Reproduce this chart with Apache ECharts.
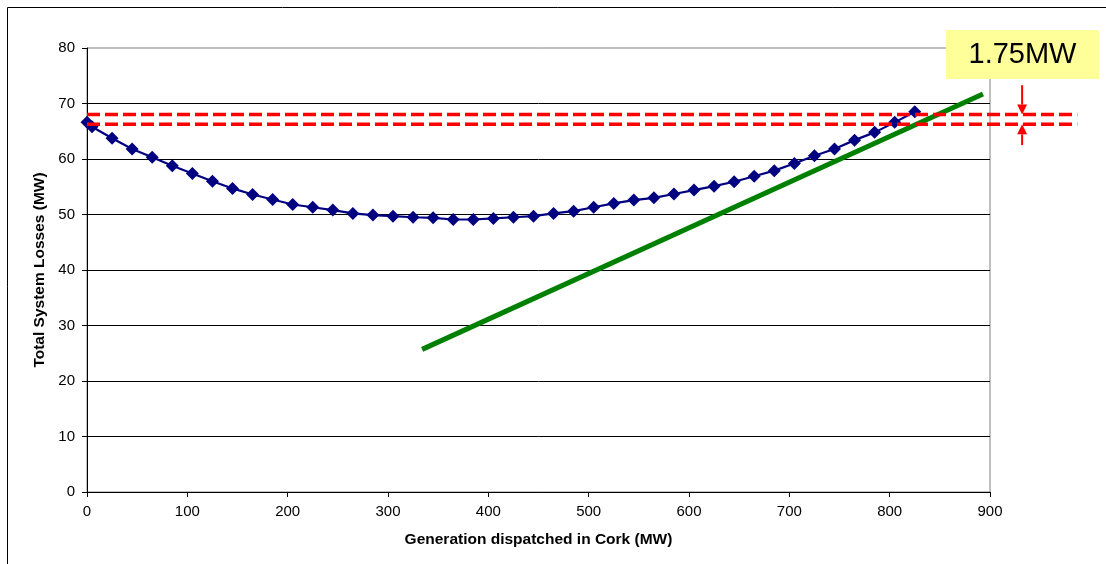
<!DOCTYPE html>
<html>
<head>
<meta charset="utf-8">
<script src="https://cdn.jsdelivr.net/npm/echarts@6/dist/echarts.min.js"></script>
<style>
html,body{margin:0;padding:0;background:#fff;}
#chart{width:1106px;height:564px;}
</style>
</head>
<body>
<div id="chart"></div>
<script>
// Generation dispatched in Cork (MW)
const genMW = [0,5,25,45,65,85,105,125,145,165,185,205,225,245,265,285,305,325,345,365,385,405,425,445,465,485,505,525,545,565,585,605,625,645,665,685,705,725,745,765,785,805,825];
// Total system losses (MW)
const lossesMW = [66.6,65.8,63.75,61.8,60.3,58.8,57.4,56.0,54.7,53.6,52.7,51.8,51.3,50.8,50.2,49.9,49.7,49.5,49.4,49.1,49.1,49.3,49.5,49.7,50.2,50.6,51.3,52.0,52.6,53.0,53.7,54.4,55.1,55.9,56.9,57.9,59.2,60.6,61.8,63.4,64.8,66.6,68.5];
// Green trend line endpoints [x, y]
const trendLine = [[334,25.7],[893,71.7]];
// Red dashed reference levels: [xStart, xEnd, level MW]
const levels = [[0,987,68.0],[0,987,66.25]];
// Arrows: [x, from, to]
const arrows = [[932,73.3,68.0],[932,62.5,66.25]];
const annotationText = '1.75MW';
const xTicks = {min:0,max:900,interval:100};
const yTicks = {min:0,max:80,interval:10};

const font = "'Liberation Sans', Arial, Helvetica, sans-serif";
const chart = echarts.init(document.getElementById('chart'), null, {renderer:'canvas'});

const option = {
  backgroundColor:'#fff',
  animation:false,
  grid:{left:87,right:116,top:48,bottom:72,show:true,borderColor:'#808080',borderWidth:1,backgroundColor:'transparent'},
  xAxis:{
    type:'value', min:xTicks.min, max:xTicks.max, interval:xTicks.interval,
    name:'Generation dispatched in Cork (MW)', nameLocation:'middle', nameGap:40,
    nameTextStyle:{fontFamily:font,fontSize:15.5,fontWeight:'bold',color:'#000'},
    axisLine:{show:true,lineStyle:{color:'#000',width:1}},
    axisTick:{show:true,inside:false,length:5,lineStyle:{color:'#000'}},
    axisLabel:{fontFamily:font,fontSize:15,color:'#000',margin:12},
    splitLine:{show:false}
  },
  yAxis:{
    type:'value', min:yTicks.min, max:yTicks.max, interval:yTicks.interval,
    name:'Total System Losses (MW)', nameLocation:'middle', nameGap:37, nameRotate:90,
    nameTextStyle:{fontFamily:font,fontSize:15.5,fontWeight:'bold',color:'#000'},
    axisLine:{show:true,lineStyle:{color:'#000',width:1}},
    axisTick:{show:true,inside:false,length:5,lineStyle:{color:'#000'}},
    axisLabel:{fontFamily:font,fontSize:15,color:'#000',margin:12},
    splitLine:{show:true,showMaxLine:false,lineStyle:{color:'#000',width:1}}
  },
  series:[
    {
      type:'line', name:'Losses',
      data: genMW.map((x,i)=>[x,lossesMW[i]]),
      symbol:'diamond', symbolSize:13,
      lineStyle:{color:'#000080',width:2.2},
      itemStyle:{color:'#000080'},
      z:3
    },
    {
      type:'line', name:'Trend', data:trendLine, symbol:'none',
      lineStyle:{color:'#008000',width:5}, z:4
    },
    {
      type:'custom', name:'Levels', clip:false, z:5,
      data: levels,
      renderItem:function(params, api){
        const p0 = api.coord([api.value(0), api.value(2)]);
        const p1 = api.coord([api.value(1), api.value(2)]);
        return {type:'line', shape:{x1:p0[0],y1:p0[1],x2:p1[0],y2:p1[1]},
          style:{stroke:'#ff0000',lineWidth:3.5,lineDash:[13,5]}};
      }
    },
    {
      type:'custom', name:'Arrows', clip:false, z:6,
      data: arrows,
      renderItem:function(params, api){
        const x = api.value(0), y0 = api.value(1), y1 = api.value(2);
        const p0 = api.coord([x,y0]);
        const p1 = api.coord([x,y1]);
        const dir = p1[1] > p0[1] ? 1 : -1;
        const headLen = 10, headHalf = 5;
        const base = p1[1] - dir*headLen;
        return {
          type:'group',
          children:[
            {type:'line', shape:{x1:p0[0],y1:p0[1],x2:p0[0],y2:base}, style:{stroke:'#ff0000',lineWidth:2}},
            {type:'polygon', shape:{points:[[p1[0],p1[1]],[p1[0]-headHalf,base],[p1[0]+headHalf,base]]}, style:{fill:'#ff0000'}}
          ]
        };
      }
    }
  ],
  graphic:[
    {type:'rect', z:-1, shape:{x:7.5,y:7.5,width:1120,height:580}, style:{fill:'none',stroke:'#000',lineWidth:1}},
    {type:'group', z:100, left:946, top:30, children:[
      {type:'rect', shape:{x:0,y:0,width:153,height:49}, style:{fill:'#ffff99'}},
      {type:'text', x:76.5, y:25, style:{text:annotationText, font:'29px ' + font, fill:'#000', align:'center', verticalAlign:'middle'}}
    ]}
  ]
};
chart.setOption(option);
</script>
</body>
</html>
